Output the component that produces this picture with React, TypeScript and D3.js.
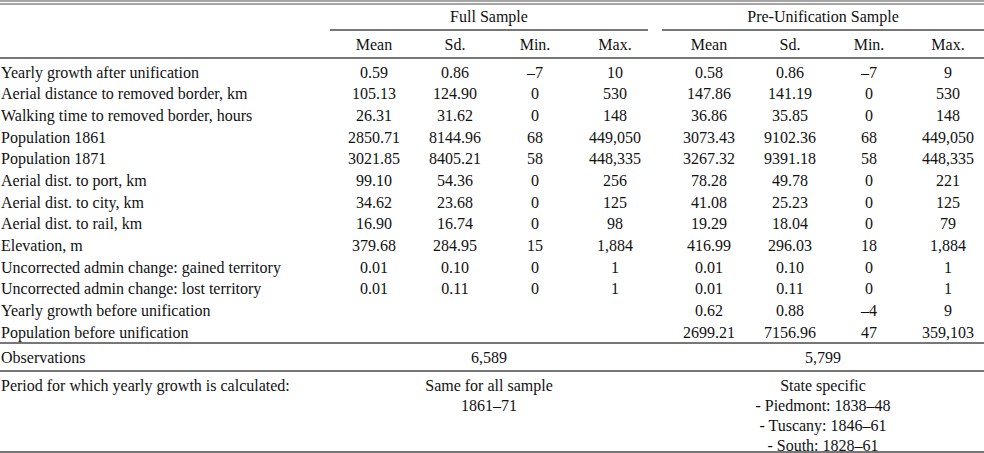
import React from "react";
import * as d3 from "d3";

const variables = [
  "Yearly growth after unification",
  "Aerial distance to removed border, km",
  "Walking time to removed border, hours",
  "Population 1861",
  "Population 1871",
  "Aerial dist. to port, km",
  "Aerial dist. to city, km",
  "Aerial dist. to rail, km",
  "Elevation, m",
  "Uncorrected admin change: gained territory",
  "Uncorrected admin change: lost territory",
  "Yearly growth before unification",
  "Population before unification",
];

const statHeaders = ["Mean", "Sd.", "Min.", "Max."];
const groupHeaders = ["Full Sample", "Pre-Unification Sample"];

const fullMean = ["0.59", "105.13", "26.31", "2850.71", "3021.85", "99.10", "34.62", "16.90", "379.68", "0.01", "0.01", "", ""];
const fullSd = ["0.86", "124.90", "31.62", "8144.96", "8405.21", "54.36", "23.68", "16.74", "284.95", "0.10", "0.11", "", ""];
const fullMin = ["–7", "0", "0", "68", "58", "0", "0", "0", "15", "0", "0", "", ""];
const fullMax = ["10", "530", "148", "449,050", "448,335", "256", "125", "98", "1,884", "1", "1", "", ""];

const preMean = ["0.58", "147.86", "36.86", "3073.43", "3267.32", "78.28", "41.08", "19.29", "416.99", "0.01", "0.01", "0.62", "2699.21"];
const preSd = ["0.86", "141.19", "35.85", "9102.36", "9391.18", "49.78", "25.23", "18.04", "296.03", "0.10", "0.11", "0.88", "7156.96"];
const preMin = ["–7", "0", "0", "68", "58", "0", "0", "0", "18", "0", "0", "–4", "47"];
const preMax = ["9", "530", "148", "449,050", "448,335", "221", "125", "79", "1,884", "1", "1", "9", "359,103"];

const observations = ["6,589", "5,799"];
const periodLabel = "Period for which yearly growth is calculated:";
const fullPeriod = ["Same for all sample", "1861–71"];
const prePeriod = ["State specific", "- Piedmont: 1838–48", "- Tuscany: 1846–61", "- South: 1828–61"];

const W = 984;
const H = 453;
const FONT = "'Liberation Serif', 'Times New Roman', serif";
const LINE = "#4a4a4a";

export default function App() {
  const columns = [fullMean, fullSd, fullMin, fullMax, preMean, preSd, preMin, preMax];
  const colX = d3
    .scaleOrdinal<number, number>()
    .domain(d3.range(8))
    .range([374, 455, 535, 615, 709, 790, 869, 948]);
  const groupExtent = [
    [330, 648],
    [662, 984],
  ];
  const rowY = d3.scaleLinear().domain([0, variables.length - 1]).range([72, 332]);
  const subY = d3.scaleLinear().domain([0, 3]).range([385, 445]);
  const fs = 16;

  const hline = (y: number, x1 = 0, x2 = W, sw = 1.3) => (
    <line x1={x1} x2={x2} y1={y} y2={y} stroke={LINE} strokeWidth={sw} />
  );

  return (
    <svg
      width={W}
      height={H}
      style={{ position: "absolute", left: 0, top: 0, display: "block", background: "#fff" }}
      fontFamily={FONT}
      fontSize={fs}
      fill="#111"
    >
      {hline(1, 0, W, 1)}
      {hline(4, 0, W, 1)}
      {groupHeaders.map((g, i) => (
        <g key={g}>
          <text x={(groupExtent[i][0] + groupExtent[i][1]) / 2} y={16} textAnchor="middle" dominantBaseline="central">
            {g}
          </text>
          {hline(30, groupExtent[i][0], groupExtent[i][1], 1.3)}
        </g>
      ))}
      {d3.range(8).map((c) => (
        <text key={"h" + c} x={colX(c)} y={44} textAnchor="middle" dominantBaseline="central">
          {statHeaders[c % 4]}
        </text>
      ))}
      {hline(58)}
      {variables.map((v, r) => (
        <g key={v}>
          <text x={1} y={rowY(r)} dominantBaseline="central">
            {v}
          </text>
          {columns.map((col, c) =>
            col[r] ? (
              <text key={c} x={colX(c)} y={rowY(r)} textAnchor="middle" dominantBaseline="central">
                {col[r]}
              </text>
            ) : null
          )}
        </g>
      ))}
      {hline(343)}
      <text x={1} y={357} dominantBaseline="central">Observations</text>
      {observations.map((o, i) => (
        <text key={o} x={(groupExtent[i][0] + groupExtent[i][1]) / 2} y={357} textAnchor="middle" dominantBaseline="central">
          {o}
        </text>
      ))}
      {hline(371)}
      <text x={1} y={subY(0)} dominantBaseline="central">{periodLabel}</text>
      {fullPeriod.map((t, i) => (
        <text key={t} x={(groupExtent[0][0] + groupExtent[0][1]) / 2} y={subY(i)} textAnchor="middle" dominantBaseline="central">
          {t}
        </text>
      ))}
      {prePeriod.map((t, i) => (
        <text key={t} x={(groupExtent[1][0] + groupExtent[1][1]) / 2} y={subY(i)} textAnchor="middle" dominantBaseline="central">
          {t}
        </text>
      ))}
      {hline(452)}
    </svg>
  );
}
